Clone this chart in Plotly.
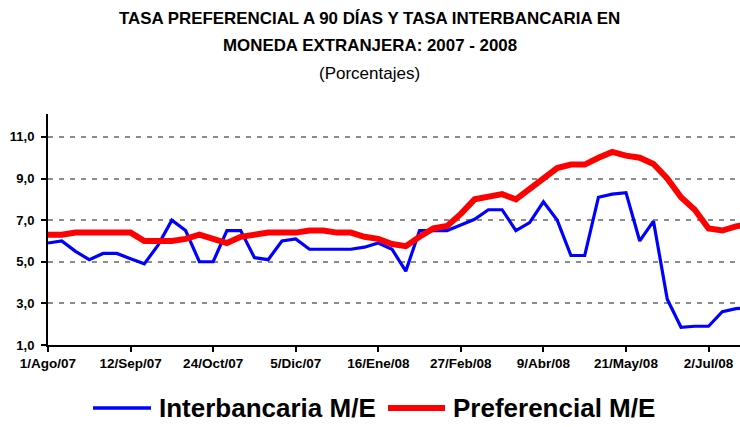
import plotly.graph_objects as go
import pandas as pd

start_date = "2007-08-01"
n_weeks = 52
dates = pd.date_range(start_date, periods=n_weeks, freq="7D")

interbancaria = [5.9, 6.0, 5.5, 5.1, 5.4, 5.4, 5.15, 4.9, 5.8, 7.0,
                 6.5, 5.0, 5.0, 6.5, 6.5, 5.2, 5.1, 6.0, 6.1, 5.6,
                 5.6, 5.6, 5.6, 5.7, 5.9, 5.6, 4.55, 6.5, 6.5, 6.5,
                 6.77, 7.04, 7.5, 7.5, 6.5, 6.88, 7.88, 7.0, 5.3, 5.3,
                 8.1, 8.25, 8.32, 6.0, 6.95, 3.2, 1.85, 1.9, 1.9, 2.6,
                 2.75, 2.78]
preferencial = [6.3, 6.3, 6.4, 6.4, 6.4, 6.4, 6.4, 6.0, 6.0, 6.0,
                6.1, 6.3, 6.1, 5.9, 6.2, 6.3, 6.4, 6.4, 6.4, 6.5,
                6.5, 6.4, 6.4, 6.2, 6.1, 5.85, 5.75, 6.2, 6.6, 6.72,
                7.3, 8.0, 8.1, 8.25, 8.0, 8.5, 9.0, 9.5, 9.67, 9.67,
                10.0, 10.28, 10.1, 10.0, 9.7, 9.0, 8.1, 7.5, 6.6, 6.5,
                6.7, 6.8]

tick_dates = pd.date_range(start_date, periods=9, freq="42D")
tick_labels = ["1/Ago/07", "12/Sep/07", "24/Oct/07", "5/Dic/07", "16/Ene/08",
               "27/Feb/08", "9/Abr/08", "21/May/08", "2/Jul/08"]
y_ticks = [1, 3, 5, 7, 9, 11]

series_names = ["Interbancaria M/E", "Preferencial M/E"]
series_colors = ["#0000FF", "#FF0000"]

FONT = "Liberation Sans, Arial, sans-serif"

fig = go.Figure()
fig.add_trace(go.Scatter(x=dates, y=interbancaria, mode="lines", name=series_names[0],
                         line=dict(color=series_colors[0], width=3.2)))
fig.add_trace(go.Scatter(x=dates, y=preferencial, mode="lines", name=series_names[1],
                         line=dict(color=series_colors[1], width=6)))

fig.update_layout(
    width=740, height=427,
    margin=dict(l=48, r=0, t=114, b=82),
    plot_bgcolor="white", paper_bgcolor="white",
    showlegend=False,
    separators=",.",
    font=dict(family=FONT, color="black"),
)

fig.update_xaxes(
    type="date",
    range=["2007-08-01", "2008-07-18"],
    tickvals=tick_dates, ticktext=["<b>%s</b>" % t for t in tick_labels],
    tickfont=dict(size=13.5, family=FONT, color="black"),
    showline=True, linecolor="black", linewidth=2,
    ticks="outside", ticklen=5, tickwidth=2, tickcolor="black",
    showgrid=False, zeroline=False,
)
fig.update_yaxes(
    range=[1, 12.1],
    tickvals=y_ticks, ticktext=["<b>%s</b>" % ("%.1f" % v).replace(".", ",") for v in y_ticks],
    tickfont=dict(size=13, family=FONT, color="black"),
    ticklabelstandoff=4,
    showline=True, linecolor="black", linewidth=2,
    ticks="outside", ticklen=5, tickwidth=2, tickcolor="black",
    showgrid=True, gridcolor="#8C8C8C", gridwidth=2, griddash="5px,6px",
    zeroline=False,
)

# Titles
fig.add_annotation(text="<b>TASA PREFERENCIAL A 90 DÍAS Y TASA INTERBANCARIA EN</b>",
                   xref="paper", yref="paper", x=0.4653, y=1, yanchor="middle",
                   xanchor="center", showarrow=False, yshift=(114 - 18),
                   font=dict(size=16.9, family=FONT, color="black"))
fig.add_annotation(text="<b>MONEDA EXTRANJERA: 2007 - 2008</b>",
                   xref="paper", yref="paper", x=0.4653, y=1, yanchor="middle",
                   xanchor="center", showarrow=False, yshift=(114 - 45),
                   font=dict(size=16.9, family=FONT, color="black"))
fig.add_annotation(text="(Porcentajes)",
                   xref="paper", yref="paper", x=0.4653, y=1, yanchor="middle",
                   xanchor="center", showarrow=False, yshift=(114 - 73),
                   font=dict(size=17, family=FONT, color="black"))

# Manual legend (below the plot)
plot_w = 740 - 48
plot_h = 427 - 114 - 82
def px_to_paper(px):
    return (px - 48) / plot_w
leg_y = -(408 - 345) / plot_h
legend_items = [(93, 151, 157, series_names[0], series_colors[0], 3.5),
                (388, 445, 451, series_names[1], series_colors[1], 6)]
for x0, x1, xt, name, color, w in legend_items:
    fig.add_shape(type="line", xref="paper", yref="paper",
                  x0=px_to_paper(x0), x1=px_to_paper(x1), y0=leg_y, y1=leg_y,
                  line=dict(color=color, width=w))
    fig.add_annotation(text="<b>%s</b>" % name, xref="paper", yref="paper",
                       x=px_to_paper(xt), y=leg_y,
                       xanchor="left", yanchor="middle", showarrow=False,
                       font=dict(size=26, family=FONT, color="black"))

fig.write_html("out.html", config={"displayModeBar": False},
               post_script="document.body.style.margin='0';")
